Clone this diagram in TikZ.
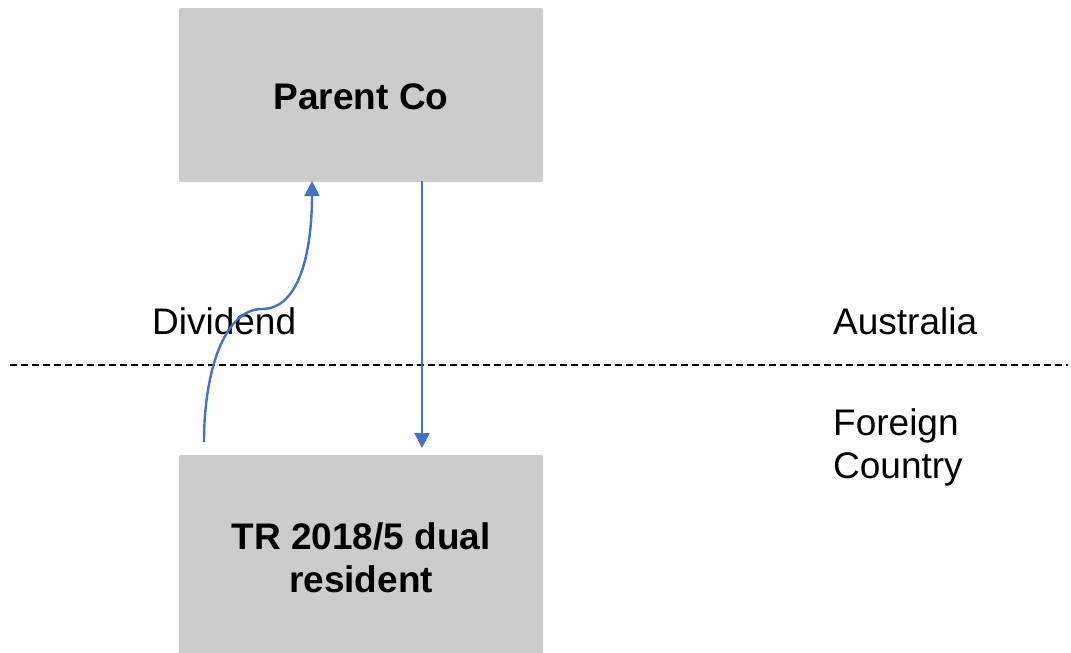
\documentclass[tikz,border=0pt]{standalone}
\usepackage{fontspec}
\setmainfont{Liberation Sans}
\usetikzlibrary{arrows.meta}
\definecolor{boxgray}{HTML}{CCCCCC}
\definecolor{arrblue}{HTML}{4472C4}
\begin{document}
\begin{tikzpicture}[x=1pt,y=-1pt,
  entity/.style={fill=boxgray,rounded corners=2pt,inner sep=0pt},
  lbl/.style={font=\fontsize{37}{43}\selectfont,inner sep=0pt},
  boldlbl/.style={font=\fontsize{37}{43}\selectfont\bfseries,align=center,inner sep=0pt},
  flow/.style={draw=arrblue,line width=2.4pt,-{Triangle[length=15pt,width=15pt]}}]
\useasboundingbox (0,0) rectangle (1071,653);
\begin{scope}
\clip (0,0) rectangle (1071,653);
\path[entity] (179,8) rectangle (543,182);
\path[entity] (179,455) rectangle (543,680);
\end{scope}
\node[boldlbl] (parent) at (361,97) {Parent Co};
\node[boldlbl] (dual) at (361,558) {TR 2018/5 dual\\resident};
\coordinate (ptop) at (312,181);
\coordinate (pbot) at (422,181);
\coordinate (dtop) at (422,448);
\coordinate (dstart) at (204,442);
\coordinate (kink) at (262,309);
\node[lbl,anchor=west] (div) at (152,321) {Dividend};
\node[lbl,anchor=west] (aus) at (833,321) {Australia};
\node[lbl,anchor=west,align=left] (foreign) at (833,447) {Foreign\\Country};
\coordinate (dl) at (10,365);
\coordinate (dr) at (1068,365);
\draw[line width=1.4pt,dash pattern=on 7pt off 4pt] (dl) -- (dr);
\draw[flow] (pbot) -- (dtop);
\draw[flow] (dstart) .. controls (204,370) and (225,309) .. (kink)
  .. controls (300,309) and (312,250) .. (ptop);
\end{tikzpicture}
\end{document}
